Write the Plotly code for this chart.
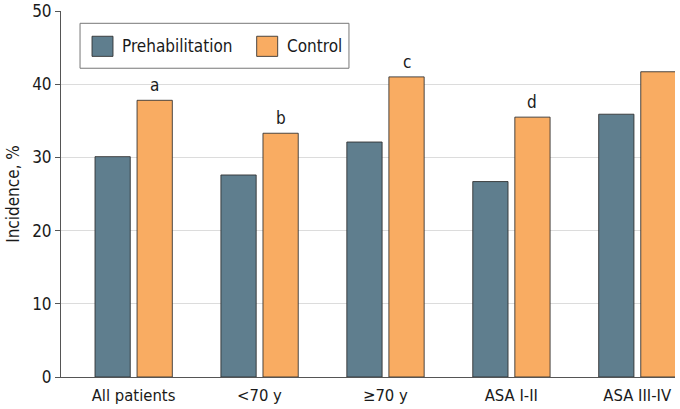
import plotly.graph_objects as go

categories = ["All patients", "<70 y", "≥70 y", "ASA I-II", "ASA III-IV"]
prehab = [30.1, 27.6, 32.1, 26.7, 35.9]
control = [37.8, 33.3, 41.0, 35.5, 41.7]
sig_labels = ["a", "b", "c", "d", ""]
ytick_vals = [0, 10, 20, 30, 40, 50]

FONT = "DejaVu Sans Condensed, sans-serif"
PREHAB_COLOR = "#5f7e8e"
CONTROL_COLOR = "#f9ac62"
EDGE = "rgba(45,45,45,0.85)"

fig = go.Figure()

fig.add_trace(go.Bar(x=categories, y=prehab, name="Prehabilitation",
                     marker=dict(color=PREHAB_COLOR, line=dict(color=EDGE, width=1)),
                     width=0.28, offset=-0.306, showlegend=False))
fig.add_trace(go.Bar(x=categories, y=control, name="Control",
                     marker=dict(color=CONTROL_COLOR, line=dict(color=EDGE, width=1)),
                     width=0.28, offset=0.028, showlegend=False))

# significance letters above the control bars
for i, lab in enumerate(sig_labels):
    if lab:
        fig.add_annotation(x=i + 0.168, y=control[i], text=lab, showarrow=False,
                           yanchor="bottom", yshift=3,
                           font=dict(family=FONT, size=17, color="#1a1a1a"))

# legend drawn by hand so the swatches can be big
fig.add_shape(type="rect", xref="paper", yref="paper", x0=0.031, x1=0.469, y0=0.8436, y1=0.9664,
              line=dict(color="#777", width=1), fillcolor="white", layer="above")
legend_items = [("Prehabilitation", PREHAB_COLOR, 0.0505), ("Control", CONTROL_COLOR, 0.3187)]
for name, col, x0 in legend_items:
    fig.add_shape(type="rect", xref="paper", yref="paper", x0=x0, x1=x0 + 0.0342,
                  y0=0.876, y1=0.931, fillcolor=col, line=dict(color=EDGE, width=1), layer="above")
    fig.add_annotation(xref="paper", yref="paper", x=x0 + 0.0455, y=0.9035, text=name,
                       showarrow=False, xanchor="left", yanchor="middle",
                       font=dict(family=FONT, size=17, color="#1a1a1a"))

fig.update_layout(
    width=680, height=409,
    margin=dict(l=61, r=5, t=11, b=32),
    paper_bgcolor="white", plot_bgcolor="white",
    font=dict(family=FONT, size=16, color="#1a1a1a"),
    xaxis=dict(range=[-0.576, 4.30], showline=True, linecolor="#555", linewidth=1,
               ticks="", tickfont=dict(size=16.5), ticklabelstandoff=3,
               showgrid=False, automargin=False),
    yaxis=dict(range=[0, 50], tickvals=ytick_vals, showline=True, linecolor="#555", linewidth=1,
               ticks="outside", ticklen=5, tickcolor="#555", showgrid=True, gridcolor="#dcdcdc",
               zeroline=False, tickfont=dict(size=17), automargin=False,
               title=dict(text="Incidence, %", font=dict(size=17), standoff=8)),
)

# page has an 8px body margin by default, drop it so the figure sits at 0,0
fig.write_html("out.html", config={"displayModeBar": False},
               post_script="document.body.style.margin='0';")
